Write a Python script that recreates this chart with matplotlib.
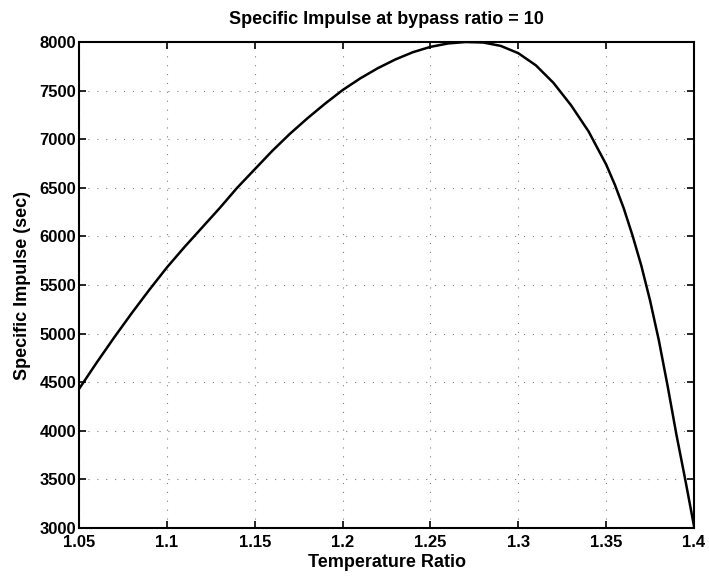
import matplotlib
matplotlib.use("Agg")
import matplotlib.pyplot as plt

# values
temp_ratio = [1.05, 1.06, 1.07, 1.08, 1.09, 1.10, 1.11, 1.12, 1.13, 1.14,
              1.15, 1.16, 1.17, 1.18, 1.19, 1.20, 1.21, 1.22, 1.23, 1.24,
              1.25, 1.26, 1.27, 1.28, 1.29, 1.30, 1.31, 1.32, 1.33, 1.34,
              1.35, 1.355, 1.36, 1.365, 1.37, 1.375, 1.38, 1.385, 1.39,
              1.395, 1.40]
specific_impulse = [4430, 4700, 4960, 5210, 5450, 5680, 5890, 6090, 6290, 6500,
                    6690, 6880, 7055, 7215, 7365, 7505, 7625, 7730, 7820, 7895,
                    7950, 7985, 8000, 7995, 7960, 7885, 7760, 7580, 7350, 7080,
                    6740, 6530, 6290, 6010, 5700, 5340, 4930, 4460, 3960,
                    3500, 3020]

x_ticks = [1.05, 1.1, 1.15, 1.2, 1.25, 1.3, 1.35, 1.4]
x_tick_labels = ["1.05", "1.1", "1.15", "1.2", "1.25", "1.3", "1.35", "1.4"]
y_ticks = [3000, 3500, 4000, 4500, 5000, 5500, 6000, 6500, 7000, 7500, 8000]

plt.rcParams["font.family"] = ["Liberation Sans", "DejaVu Sans"]

fig = plt.figure(figsize=(7.09, 5.77), dpi=100)
ax = fig.add_axes([79 / 709, 1 - 528 / 577, (694 - 79) / 709, (528 - 42) / 577])

ax.plot(temp_ratio, specific_impulse, color="black", linewidth=1.8)

ax.set_xlim(1.05, 1.4)
ax.set_ylim(3000, 8000)
ax.set_xticks(x_ticks)
ax.set_xticklabels(x_tick_labels)
ax.set_yticks(y_ticks)

ax.grid(True, color="black", linestyle=(0, (1, 7)), linewidth=0.8, alpha=0.5)
ax.tick_params(direction="in", length=5, width=1.2, top=True, right=True,
               labelsize=12)
ax.tick_params(axis="x", pad=5)
ax.tick_params(axis="y", pad=2)
for lbl in ax.get_xticklabels() + ax.get_yticklabels():
    lbl.set_fontweight("bold")
for sp in ax.spines.values():
    sp.set_linewidth(1.5)

ax.set_title("Specific Impulse at bypass ratio = 10", fontsize=13,
             fontweight="bold", pad=13)
ax.set_xlabel("Temperature Ratio", fontsize=13, fontweight="bold", labelpad=3)
ax.set_ylabel("Specific Impulse (sec)", fontsize=13, fontweight="bold", labelpad=6)

fig.savefig("out.png", dpi=100)
